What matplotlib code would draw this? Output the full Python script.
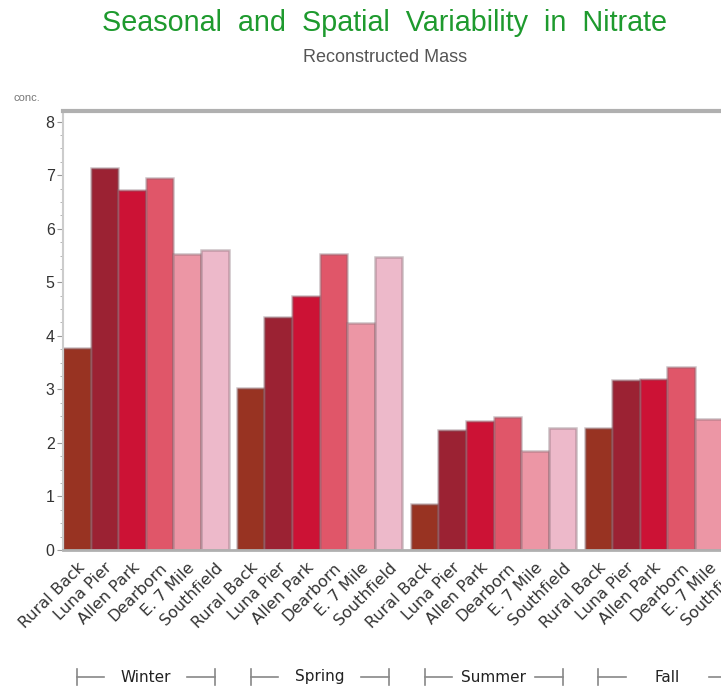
import matplotlib
matplotlib.use("Agg")
import matplotlib.pyplot as plt
from matplotlib.ticker import MultipleLocator
from matplotlib.transforms import blended_transform_factory, ScaledTranslation

plt.rcParams['font.family'] = ['Liberation Sans', 'DejaVu Sans']

seasons = ["Winter", "Spring", "Summer", "Fall"]
sites = ["Rural Back", "Luna Pier", "Allen Park", "Dearborn", "E. 7 Mile", "Southfield"]
winter = [3.77, 7.13, 6.72, 6.94, 5.52, 5.60]
spring = [3.02, 4.35, 4.74, 5.52, 4.24, 5.47]
summer = [0.86, 2.24, 2.41, 2.48, 1.85, 2.28]
fall = [2.28, 3.17, 3.19, 3.41, 2.44, 3.20]
values = [winter, spring, summer, fall]
colors = ["#983322", "#9b2233", "#cc1235", "#e05669", "#ec96a5", "#edb9ca"]
yticks = [0, 1, 2, 3, 4, 5, 6, 7, 8]

W, H = 721, 687
fig = plt.figure(figsize=(W / 100, H / 100), dpi=100)

pitch = 6.3
xmax = 3 * pitch + 6 + 0.3
bar_px = 27.6
ax_left = 63 / W
ax_width = xmax * bar_px / W
ax_bottom = (H - 550) / H
ax_height = (550 - 111) / H
ax = fig.add_axes([ax_left, ax_bottom, ax_width, ax_height])

xt, xl = [], []
for g, vals in enumerate(values):
    for i, v in enumerate(vals):
        x = g * pitch + i + 0.5
        ax.bar(x, v, width=1.0, color=colors[i],
               edgecolor=(0.5, 0.4, 0.43, 0.4), linewidth=1.8, zorder=2)
        xt.append(x)
        xl.append(sites[i])

ax.set_xlim(0, xmax)
ax.set_ylim(0, 8.2)
ax.set_yticks(yticks)
ax.yaxis.set_minor_locator(MultipleLocator(0.25))
ax.tick_params(axis='y', which='major', length=4, color='#999999',
               labelsize=11.5, labelcolor='#333333', pad=2)
ax.tick_params(axis='y', which='minor', length=2, color='#aaaaaa')
ax.set_xticks(xt)
labels = ax.set_xticklabels(xl, rotation=45, ha='right', rotation_mode='anchor',
                            fontsize=11.5, color='#333333', family='DejaVu Sans')
off = ScaledTranslation(9 / 100, 0, fig.dpi_scale_trans)
for lab in labels:
    lab.set_transform(lab.get_transform() + off)
ax.tick_params(axis='x', length=0, pad=7)

ax.spines['right'].set_visible(False)
ax.spines['top'].set_color('#b0b0b0')
ax.spines['top'].set_linewidth(3)
ax.spines['left'].set_color('#cccccc')
ax.spines['left'].set_linewidth(1.5)
ax.spines['bottom'].set_color('#b0b0b0')
ax.spines['bottom'].set_linewidth(2)

# Titles
fig.text(385 / W, 1 - 23 / H, "Seasonal  and  Spatial  Variability  in  Nitrate",
         ha='center', va='center', fontsize=20.7, color='#1e9a2e')
fig.text(385 / W, 1 - 57 / H, "Reconstructed Mass", ha='center', va='center',
         fontsize=13, color='#555555')
fig.text(13 / W, 1 - 98 / H, "conc.", ha='left', va='center',
         fontsize=8, color='#777777')

# Group brackets
trans = blended_transform_factory(ax.transData, fig.transFigure)
yb = 1 - 677 / H
for g, s in enumerate(seasons):
    x0 = g * pitch + 0.5
    x1 = g * pitch + 5.5
    xc = (x0 + x1) / 2
    half = 1.3
    ax.plot([x0, xc - half - 0.2], [yb, yb], transform=trans, color='#888888',
            lw=1.2, clip_on=False)
    ax.plot([xc + half + 0.2, x1], [yb, yb], transform=trans, color='#888888',
            lw=1.2, clip_on=False)
    ax.plot([x0, x0], [yb - 0.011, yb + 0.011], transform=trans, color='#888888',
            lw=1.2, clip_on=False)
    ax.plot([x1, x1], [yb - 0.011, yb + 0.011], transform=trans, color='#888888',
            lw=1.2, clip_on=False)
    ax.text(xc, yb, s, transform=trans, ha='center', va='center',
            fontsize=11, color='#222222', family='DejaVu Sans', clip_on=False)

fig.savefig("out.png", dpi=100)
